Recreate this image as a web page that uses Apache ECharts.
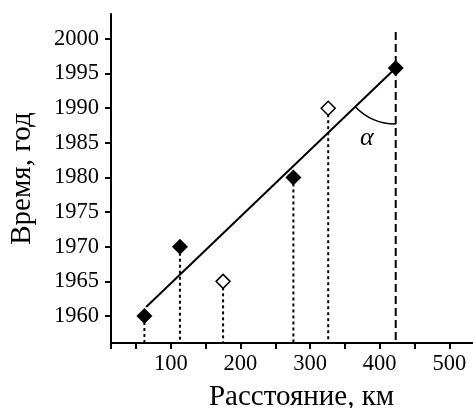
<!DOCTYPE html>
<html>
<head>
<meta charset="utf-8">
<script src="https://cdn.jsdelivr.net/npm/echarts@6.0.0/dist/echarts.min.js"></script>
<style>
  html, body { margin: 0; padding: 0; background: #fff; }
  #chart { width: 473px; height: 408px; }
</style>
</head>
<body>
<div id="chart"></div>
<script>
// Measured points: distance (km) vs. year
const filledX = [62, 113, 276, 423];
const filledY = [1960, 1970, 1980, 1995.8];
const openX = [175, 326];
const openY = [1965, 1990];

// Fitted trend line end points
const fitX = [64.5, 423];
const fitY = [1961.3, 1995.8];

// Top of the dashed reference line through the last point
const guideTopY = 2001;

// Axis range
const xMin = 14, xMax = 534;
const yMin = 1956.1, yMax = 2003.6;

// Axis ticks and labels (the first x tick closes the corner below the origin)
const xTickValues = [xMin, 50, 100, 150, 200, 250, 300, 350, 400, 450, 500];
const xLabelValues = [100, 200, 300, 400, 500];
const yTickValues = [1960, 1965, 1970, 1975, 1980, 1985, 1990, 1995, 2000];

const font = '"Liberation Serif", "Times New Roman", serif';

const filledData = filledX.map((x, i) => [x, filledY[i]]);
const openData = openX.map((x, i) => [x, openY[i]]);
const fitData = fitX.map((x, i) => [x, fitY[i]]);

// Drop lines: [x, y, isGuide]
const lastIdx = filledX.length - 1;
const dropData = filledData.map((p, i) => i === lastIdx ? [p[0], guideTopY, 1] : [p[0], p[1], 0])
  .concat(openData.map(p => [p[0], p[1], 0]));

const chart = echarts.init(document.getElementById('chart'), null, { renderer: 'canvas' });

const axisLineStyle = { color: '#000', width: 2 };
const plain = v => String(Math.round(v));

chart.setOption({
  animation: false,
  backgroundColor: '#fff',
  grid: { left: 111, right: 0, top: 14, bottom: 65, containLabel: false, outerBoundsMode: 'none' },
  xAxis: {
    type: 'value',
    min: xMin,
    max: xMax,
    name: 'Расстояние, км',
    nameLocation: 'middle',
    nameGap: 40,
    nameTextStyle: { fontFamily: font, fontSize: 29, color: '#000', padding: [0, 0, 0, 19] },
    axisLine: { show: true, onZero: false, lineStyle: axisLineStyle },
    axisTick: { show: true, length: 6, lineStyle: axisLineStyle, customValues: xTickValues },
    axisLabel: { fontFamily: font, fontSize: 22.5, color: '#000', margin: 10, customValues: xLabelValues, formatter: plain },
    splitLine: { show: false }
  },
  yAxis: {
    type: 'value',
    min: yMin,
    max: yMax,
    name: 'Время, год',
    nameLocation: 'middle',
    nameGap: 74,
    nameTextStyle: { fontFamily: font, fontSize: 29, color: '#000' },
    axisLine: { show: true, onZero: false, lineStyle: axisLineStyle },
    axisTick: { show: true, length: 6, lineStyle: axisLineStyle, customValues: yTickValues },
    axisLabel: { fontFamily: font, fontSize: 22.5, color: '#000', margin: 12, customValues: yTickValues, formatter: plain },
    splitLine: { show: false }
  },
  series: [
    {
      // vertical drop lines to the distance axis
      type: 'custom',
      z: 1,
      data: dropData,
      silent: true,
      renderItem: function (params, api) {
        const top = api.coord([api.value(0), api.value(1)]);
        const bottom = api.coord([api.value(0), yMin]);
        const guide = api.value(2) === 1;
        return {
          type: 'line',
          shape: { x1: top[0], y1: top[1], x2: bottom[0], y2: bottom[1] },
          style: { stroke: '#000', lineWidth: 2, lineDash: guide ? [8, 4] : [3, 3], fill: null }
        };
      }
    },
    {
      // trend line
      type: 'line',
      z: 2,
      data: fitData,
      symbol: 'none',
      silent: true,
      lineStyle: { color: '#000', width: 2 }
    },
    {
      // angle between trend line and the vertical guide
      type: 'custom',
      z: 2,
      silent: true,
      data: [[fitX[1], fitY[1], fitX[0], fitY[0]]],
      renderItem: function (params, api) {
        const c = api.coord([api.value(0), api.value(1)]);
        const o = api.coord([api.value(2), api.value(3)]);
        const ang = Math.atan2(o[1] - c[1], o[0] - c[0]);
        return {
          type: 'group',
          children: [
            {
              type: 'arc',
              shape: { cx: c[0], cy: c[1], r: 56, startAngle: Math.PI / 2, endAngle: ang, clockwise: true },
              style: { stroke: '#000', lineWidth: 1.6, fill: null }
            },
            {
              type: 'text',
              x: c[0] - 29,
              y: c[1] + 70,
              style: {
                text: 'α',
                font: 'italic 26px ' + font,
                fill: '#000',
                align: 'center',
                verticalAlign: 'middle'
              }
            }
          ]
        };
      }
    },
    {
      type: 'scatter',
      z: 3,
      data: filledData,
      symbol: 'diamond',
      symbolSize: [16, 16],
      itemStyle: { color: '#000', opacity: 1 },
      emphasis: { disabled: true }
    },
    {
      type: 'scatter',
      z: 3,
      data: openData,
      symbol: 'diamond',
      symbolSize: [14, 14],
      itemStyle: { color: '#fff', borderColor: '#000', borderWidth: 1.5, opacity: 1 },
      emphasis: { disabled: true }
    }
  ]
});
</script>
</body>
</html>
